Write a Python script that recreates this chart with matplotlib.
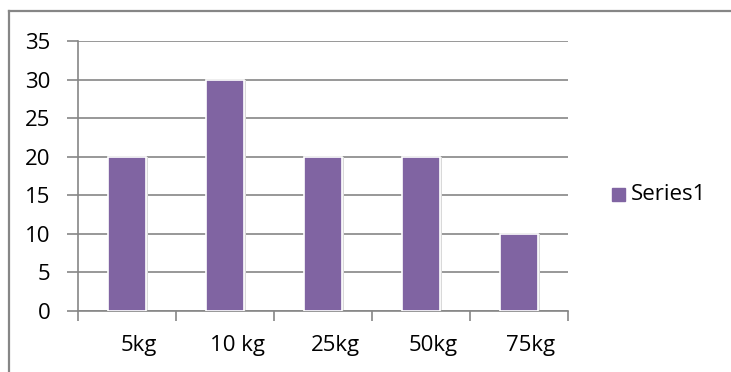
import matplotlib
matplotlib.use("Agg")
import matplotlib.pyplot as plt
import matplotlib.transforms as mtransforms
from matplotlib.lines import Line2D
from matplotlib.patches import Rectangle

categories = ["5kg", "10 kg", "25kg", "50kg", "75kg"]
values = [20, 30, 20, 20, 10]
y_ticks = [0, 5, 10, 15, 20, 25, 30, 35]
series_name = "Series1"

W, H = 731, 372
plt.rcParams["font.family"] = ["Open Sans", "DejaVu Sans"]
fig = plt.figure(figsize=(W / 100, H / 100), dpi=100)

# chart frame: top and left edges
fig.add_artist(Line2D([8.5 / W, 8.5 / W], [0, 1 - 11 / H], transform=fig.transFigure,
                      color="#868686", lw=1.6))
fig.add_artist(Line2D([8.5 / W, 1], [1 - 11 / H, 1 - 11 / H], transform=fig.transFigure,
                      color="#868686", lw=1.6))

left, right = 78 / W, 568 / W
top, bottom = 1 - 41 / H, 1 - 311 / H
ax = fig.add_axes([left, bottom, right - left, top - bottom])

purple = "#8064A2"
grid_c = "#868686"
fs = 16
x = list(range(len(categories)))

# soft shadow behind the bars
ax.bar([i + 0.012 for i in x], values, width=0.41, color="#d9d9d9", zorder=2,
       linewidth=0)
ax.bar(x, values, width=0.39, color=purple, edgecolor="white", linewidth=1.2,
       zorder=3, label=series_name)

ax.set_xlim(-0.5, len(categories) - 0.5)
ax.set_ylim(0, 35)
ax.set_yticks(y_ticks)
ax.set_yticklabels([str(v) for v in y_ticks], fontsize=fs, color="#000000")
ax.yaxis.grid(True, color=grid_c, linewidth=1.2, zorder=1)
ax.set_axisbelow(True)

# category ticks at slot boundaries, labels at slot centres
ax.set_xticks([i - 0.5 for i in range(len(categories) + 1)])
ax.set_xticklabels([])
ax.set_xticks(x, minor=True)
ax.set_xticklabels(categories, minor=True, fontsize=fs)
ax.tick_params(axis="x", which="major", length=7, color=grid_c, width=1.2)
ax.tick_params(axis="x", which="minor", length=0, pad=17)
ax.tick_params(axis="y", length=8, color=grid_c, width=1.2, pad=12)

# category labels sit slightly right of the slot centres
shift = mtransforms.ScaledTranslation(0.12, 0, fig.dpi_scale_trans)
for lbl in ax.get_xticklabels(minor=True):
    lbl.set_transform(lbl.get_transform() + shift)

for s in ["top", "right"]:
    ax.spines[s].set_visible(False)
for s in ["left", "bottom"]:
    ax.spines[s].set_color(grid_c)
    ax.spines[s].set_linewidth(1.2)

# legend
fig.patches.append(Rectangle((612 / W, 1 - 201 / H), 13 / W, 13 / H,
                             transform=fig.transFigure, color=purple))
fig.text(631 / W, 1 - 195 / H, series_name, fontsize=fs, va="center", ha="left")

fig.savefig("out.png", dpi=100)
